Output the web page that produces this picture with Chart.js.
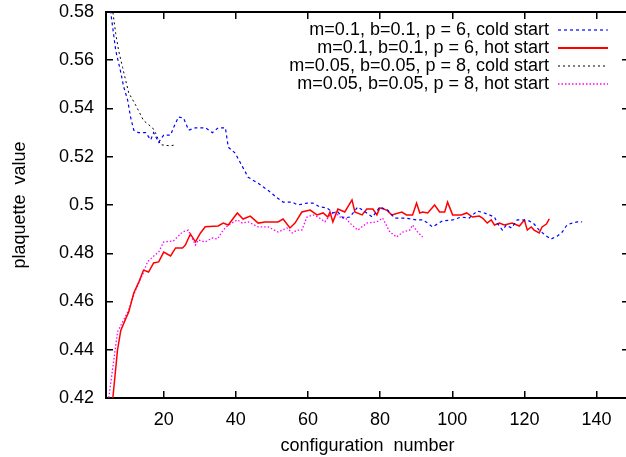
<!DOCTYPE html>
<html>
<head>
<meta charset="utf-8">
<script src="https://cdn.jsdelivr.net/npm/chart.js@4.4.1/dist/chart.umd.min.js"></script>
<style>
  html, body { margin: 0; padding: 0; background: #fff; overflow: hidden; }
  #wrap { position: absolute; left: 0; top: 0; width: 640px; height: 457px; }
</style>
</head>
<body>
<div id="wrap"><canvas id="c" width="640" height="457"></canvas></div>
<script>
// ---- data ----
const xTicks = [20, 40, 60, 80, 100, 120, 140];
const yTicks = [0.42, 0.44, 0.46, 0.48, 0.50, 0.52, 0.54, 0.56, 0.58];
const yTickLabels = ['0.42', '0.44', '0.46', '0.48', '0.5', '0.52', '0.54', '0.56', '0.58'];

const seriesLabels = [
  'm=0.1, b=0.1, p = 6, cold start',
  'm=0.1, b=0.1, p = 6, hot start',
  'm=0.05, b=0.05, p = 8, cold start',
  'm=0.05, b=0.05, p = 8, hot start'
];

const cold1X = [4.5, 5.3, 6.7, 8.1, 8.9, 10.0, 10.8, 11.7, 13.0, 15.0, 16.4, 17.2, 18.6, 20.0, 21.9, 22.7, 24.1, 25.5, 26.9, 28.8, 31.6, 33.5, 35.1, 37.1, 37.9, 39.8, 41.8, 43.4, 46.2, 49.0, 51.4, 53.1, 55.6, 57.2, 59.7, 61.4, 63.3, 65.3, 66.9, 68.3, 69.7, 71.6, 73.8, 76.3, 77.9, 79.9, 82.1, 84.0, 86.8, 90.1, 91.8, 93.2, 94.5, 97.3, 100.1, 102.5, 104.7, 106.9, 108.9, 110.3, 111.7, 112.5, 113.9, 115.0, 116.4, 118.0, 119.4, 121.3, 122.7, 124.1, 126.1, 127.4, 129.1, 130.5, 131.8, 133.2, 134.6, 136.0];
const cold1Y = [0.588, 0.580, 0.564, 0.555, 0.549, 0.5435, 0.5365, 0.531, 0.530, 0.530, 0.527, 0.530, 0.526, 0.529, 0.529, 0.532, 0.5365, 0.536, 0.531, 0.532, 0.532, 0.530, 0.532, 0.532, 0.524, 0.5215, 0.516, 0.5115, 0.509, 0.506, 0.503, 0.5012, 0.5012, 0.500, 0.5008, 0.5008, 0.4992, 0.4988, 0.4967, 0.4971, 0.4946, 0.495, 0.4992, 0.4967, 0.495, 0.4992, 0.4979, 0.4946, 0.4946, 0.4938, 0.4938, 0.4925, 0.4909, 0.4934, 0.4938, 0.495, 0.4946, 0.4975, 0.4967, 0.4959, 0.495, 0.4925, 0.4896, 0.4917, 0.4905, 0.4938, 0.4938, 0.4934, 0.4921, 0.4896, 0.4871, 0.4859, 0.4871, 0.4888, 0.4917, 0.4925, 0.493, 0.493];

const hot1X = [5.5, 5.9, 7.2, 8.1, 9.5, 10.3, 11.7, 13.0, 14.4, 15.8, 17.2, 18.6, 20.0, 21.9, 23.3, 25.2, 26.0, 27.4, 28.8, 30.2, 31.5, 35.1, 36.5, 37.9, 40.4, 42.0, 44.0, 46.2, 48.1, 51.7, 53.1, 55.0, 56.4, 58.3, 60.6, 62.5, 64.2, 65.5, 66.1, 66.9, 68.3, 70.2, 72.2, 73.0, 75.0, 76.3, 78.0, 79.1, 79.9, 81.8, 83.2, 86.0, 87.3, 89.0, 90.1, 91.0, 91.8, 93.2, 95.1, 96.5, 97.9, 98.7, 100.1, 102.5, 104.0, 105.6, 107.5, 108.4, 109.7, 110.8, 111.7, 113.1, 114.4, 116.6, 118.6, 120.0, 120.8, 121.9, 122.7, 124.1, 124.9, 126.1, 126.9];
const hot1Y = [0.41, 0.42, 0.44, 0.448, 0.453, 0.4556, 0.4635, 0.4677, 0.473, 0.4722, 0.476, 0.4764, 0.4805, 0.4789, 0.4822, 0.4822, 0.4834, 0.488, 0.4847, 0.4884, 0.491, 0.4913, 0.4925, 0.4917, 0.4967, 0.4942, 0.4954, 0.4925, 0.493, 0.493, 0.4942, 0.4905, 0.4925, 0.4971, 0.4979, 0.4959, 0.4967, 0.495, 0.4971, 0.493, 0.4983, 0.4971, 0.5021, 0.4971, 0.4959, 0.4983, 0.4983, 0.4959, 0.4988, 0.4979, 0.4959, 0.4971, 0.4959, 0.4959, 0.5008, 0.4967, 0.4971, 0.4967, 0.500, 0.4971, 0.4971, 0.5012, 0.4959, 0.4959, 0.4967, 0.495, 0.4954, 0.4946, 0.4925, 0.4938, 0.4917, 0.4925, 0.4917, 0.4925, 0.4913, 0.4938, 0.4896, 0.4909, 0.4896, 0.4884, 0.4909, 0.4921, 0.4942];

const cold2X = [5.0, 5.9, 6.7, 7.5, 8.6, 9.4, 10.3, 12.2, 14.4, 16.9, 17.7, 19.1, 21.9, 23.3];
const cold2Y = [0.588, 0.580, 0.571, 0.564, 0.557, 0.552, 0.5465, 0.5415, 0.535, 0.532, 0.530, 0.525, 0.5245, 0.525];

const hot2X = [4.3, 4.8, 5.9, 7.2, 8.6, 10.3, 12.2, 14.1, 15.5, 16.9, 18.6, 20.0, 22.7, 25.2, 26.8, 28.8, 29.6, 31.5, 33.5, 34.9, 36.5, 37.9, 40.4, 41.8, 43.4, 46.2, 49.0, 51.7, 54.2, 55.6, 57.0, 58.3, 59.7, 61.4, 62.8, 64.7, 66.1, 67.5, 68.9, 70.2, 71.6, 73.8, 76.3, 79.1, 80.7, 82.7, 84.6, 86.3, 88.2, 89.0, 90.4, 91.8];
const hot2Y = [0.41, 0.4204, 0.4328, 0.4474, 0.4515, 0.4565, 0.4648, 0.471, 0.4764, 0.4784, 0.4805, 0.4847, 0.4851, 0.4888, 0.4896, 0.4834, 0.4855, 0.4847, 0.4863, 0.4859, 0.4896, 0.4917, 0.4938, 0.4925, 0.493, 0.4909, 0.4909, 0.4888, 0.4905, 0.4884, 0.4896, 0.4896, 0.495, 0.4959, 0.495, 0.493, 0.4959, 0.4971, 0.495, 0.495, 0.4925, 0.4896, 0.4925, 0.493, 0.4946, 0.4888, 0.4867, 0.4888, 0.4896, 0.4917, 0.4888, 0.4867];

const xMin = 4, xMax = 149, yMin = 0.42, yMax = 0.58;

// ---- helpers ----
const pts = (xs, ys) => xs.map((x, i) => ({ x: x, y: ys[i] }));
const FONT = { family: "'Liberation Sans', Arial, Helvetica, sans-serif", size: 18 };
Chart.defaults.font.family = FONT.family;
Chart.defaults.font.size = 18;
Chart.defaults.color = '#000';

const setXTicks = s => { s.ticks = xTicks.map(v => ({ value: v })); };
const setYTicks = s => { s.ticks = yTicks.map(v => ({ value: v })); };
const noPadX = s => { s.paddingLeft = 0; s.paddingRight = 0; };
const noPadY = s => { s.paddingTop = 0; s.paddingBottom = 0; };

const legendMover = {
  id: 'legendMover',
  afterLayout(chart) {
    const l = chart.legend;
    if (!l) return;
    const ca = chart.chartArea;
    const right = ca.right - 21;
    l.left = right - l.width;
    l.right = right;
    l.top = ca.top + 9;
    l.bottom = ca.bottom;
    l.height = l.bottom - l.top;
  }
};

const tickGrid = { display: true, drawOnChartArea: false, drawTicks: true, tickLength: -7, color: '#000', lineWidth: 1.5 };
const border = { display: true, color: '#000', width: 2 };

new Chart(document.getElementById('c'), {
  type: 'line',
  data: {
    datasets: [
      { label: seriesLabels[0], data: pts(cold1X, cold1Y), borderColor: '#0000ff', borderWidth: 1.2, borderDash: [3, 3] },
      { label: seriesLabels[1], data: pts(hot1X, hot1Y), borderColor: '#ff0000', borderWidth: 1.5 },
      { label: seriesLabels[2], data: pts(cold2X, cold2Y), borderColor: '#000000', borderWidth: 1, borderDash: [2, 3] },
      { label: seriesLabels[3], data: pts(hot2X, hot2Y), borderColor: '#ff00ff', borderWidth: 1.3, borderDash: [1.5, 2] }
    ]
  },
  options: {
    responsive: false,
    animation: false,
    devicePixelRatio: 1,
    layout: { padding: 0 },
    elements: { point: { radius: 0 }, line: { tension: 0, fill: false } },
    plugins: {
      tooltip: { enabled: false },
      legend: {
        position: 'chartArea',
        align: 'start',
        rtl: true,
        labels: {
          usePointStyle: true,
          pointStyle: 'line',
          pointStyleWidth: 50,
          padding: 0,
          color: '#000',
          font: FONT,
          generateLabels(chart) {
            const items = Chart.defaults.plugins.legend.labels.generateLabels(chart);
            items.forEach(it => {
              const ds = chart.data.datasets[it.datasetIndex];
              it.lineDash = ds.borderDash || [];
              it.lineWidth = ds.borderDash ? ds.borderWidth : 2;
              it.strokeStyle = ds.borderColor;
              it.pointStyle = 'line';
            });
            return items;
          }
        }
      }
    },
    scales: {
      x: {
        type: 'linear', position: 'bottom', min: xMin, max: xMax,
        afterBuildTicks: setXTicks,
        afterFit: s => { s.height = 59; noPadX(s); },
        grid: tickGrid, border: border,
        ticks: { font: FONT, color: '#000', padding: 18, maxRotation: 0, autoSkip: false },
        title: { display: true, text: 'configuration  number', font: FONT, color: '#000', padding: { top: 0, bottom: 0 } }
      },
      x2: {
        type: 'linear', position: 'top', min: xMin, max: xMax,
        afterBuildTicks: setXTicks,
        afterFit: s => { s.height = 12; noPadX(s); },
        grid: tickGrid, border: border,
        ticks: { display: false }
      },
      y: {
        type: 'linear', position: 'left', min: yMin, max: yMax,
        afterBuildTicks: setYTicks,
        afterFit: s => { s.width = 106; noPadY(s); },
        grid: tickGrid, border: border,
        ticks: { font: FONT, color: '#000', padding: 19, autoSkip: false, callback: (v, i) => yTickLabels[i] },
        title: { display: true, text: 'plaquette  value', font: FONT, color: '#000', padding: { top: 9, bottom: 0 } }
      },
      y2: {
        type: 'linear', position: 'right', min: yMin, max: yMax,
        afterBuildTicks: setYTicks,
        afterFit: s => { s.width = 11; noPadY(s); },
        grid: tickGrid, border: border,
        ticks: { display: false }
      }
    }
  },
  plugins: [legendMover]
});
</script>
</body>
</html>
